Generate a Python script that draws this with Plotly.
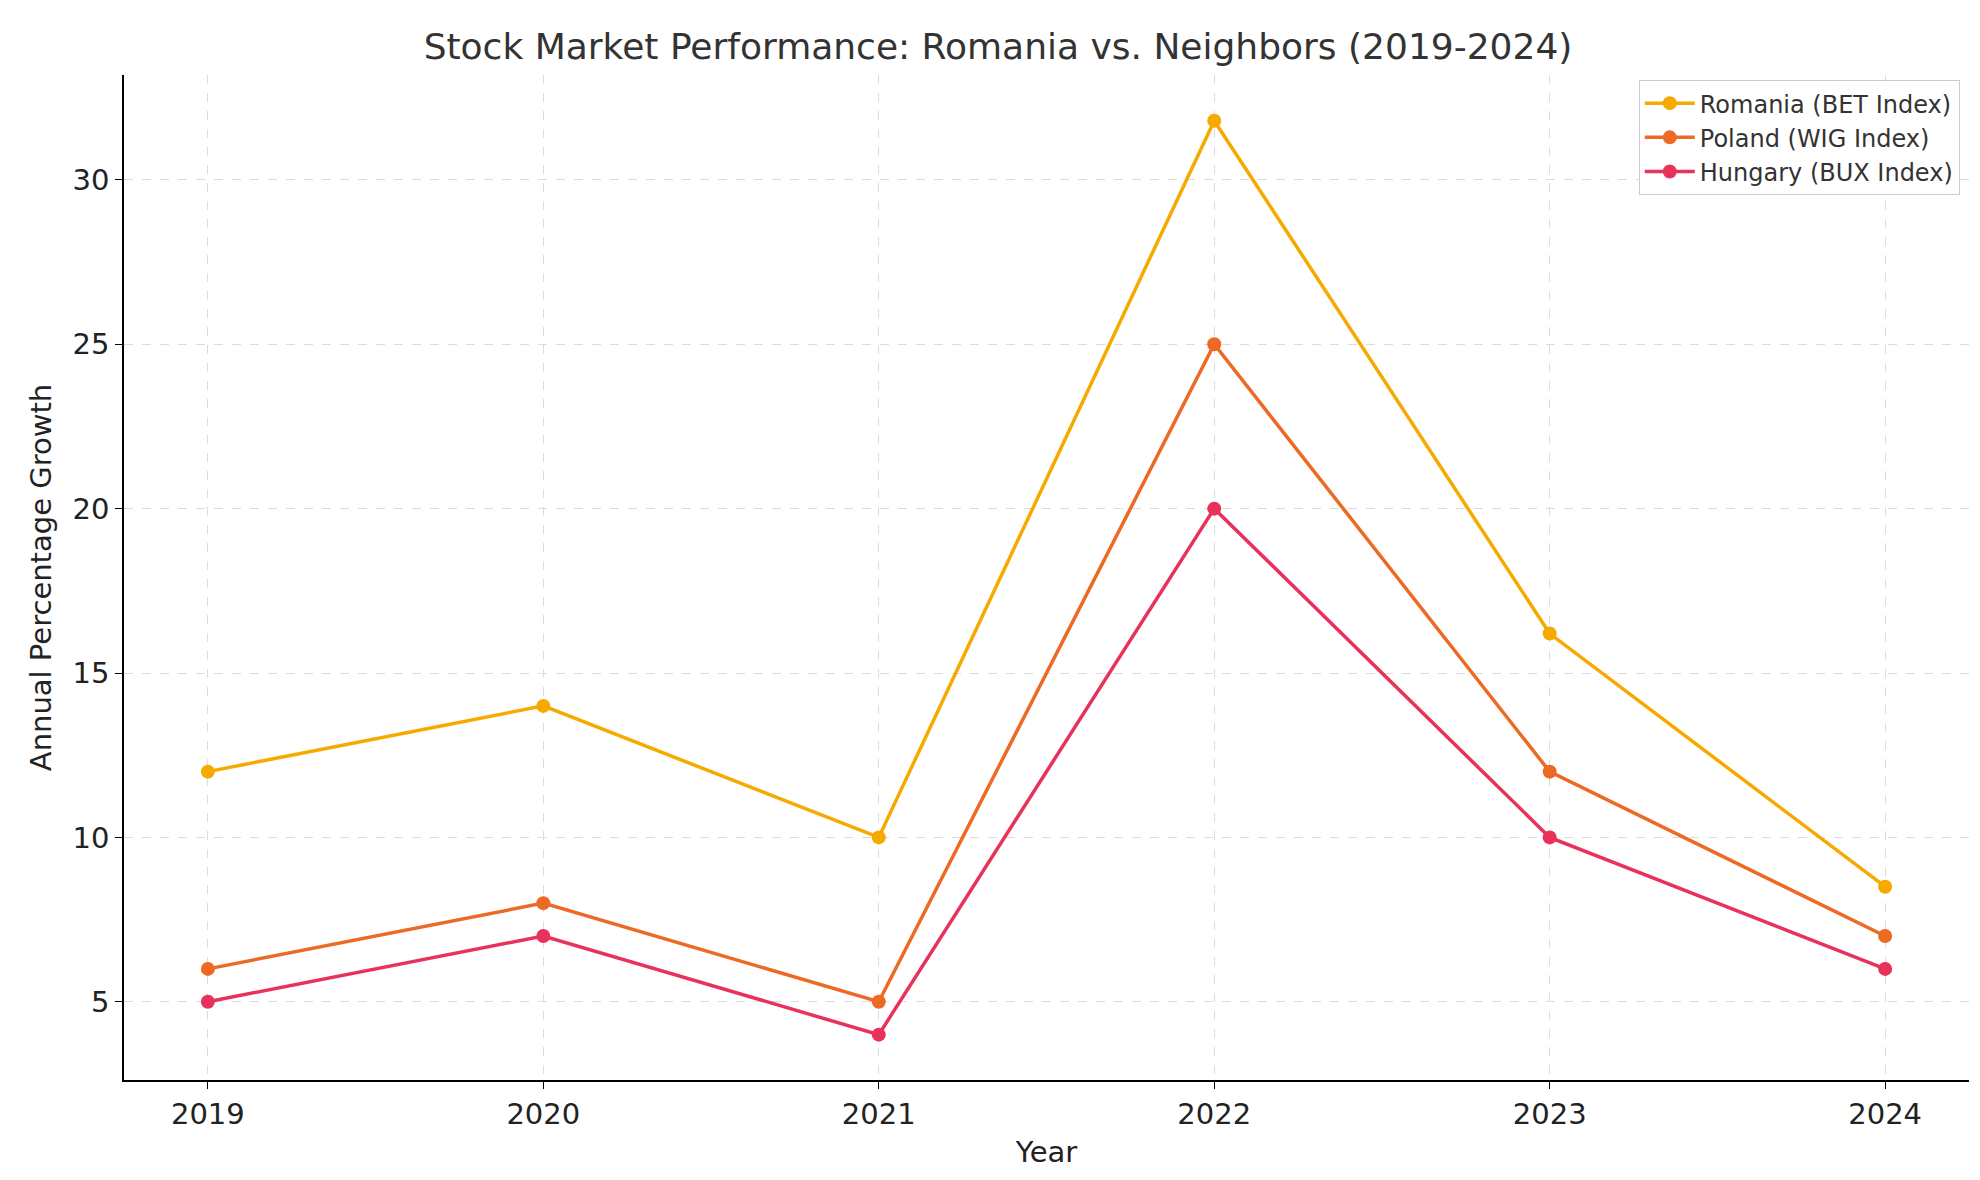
import plotly.graph_objects as go

years = [2019, 2020, 2021, 2022, 2023, 2024]
romania = [12, 14, 10, 31.8, 16.2, 8.5]
poland = [6, 8, 5, 25, 12, 7]
hungary = [5, 7, 4, 20, 10, 6]

series = [
    ("Romania (BET Index)", romania, "#f6aa00"),
    ("Poland (WIG Index)", poland, "#ec6a24"),
    ("Hungary (BUX Index)", hungary, "#e9325b"),
]

fig = go.Figure()
for name, vals, color in series:
    fig.add_trace(go.Scatter(x=years, y=vals, name=name, mode="lines+markers",
                             line=dict(color=color, width=3.5),
                             marker=dict(color=color, size=14)))

grid = dict(showgrid=True, gridcolor="#dcdcdc", griddash="dash", gridwidth=1,
            showline=True, linecolor="black", linewidth=1.5, ticks="outside",
            ticklen=7, tickcolor="black", tickfont=dict(size=29, color="#222"),
            zeroline=False)

fig.update_layout(
    width=1980, height=1180,
    font=dict(family="DejaVu Sans", color="#222"),
    title=dict(text="Stock Market Performance: Romania vs. Neighbors (2019-2024)",
               x=0.5, xanchor="center", y=0.978, font=dict(size=36, color="#333")),
    plot_bgcolor="white", paper_bgcolor="white",
    margin=dict(l=116, r=19, t=67, b=108),
    xaxis=dict(range=[2018.75, 2024.25], tickvals=years,
               title=dict(text="Year", font=dict(size=29), standoff=12), **grid),
    yaxis=dict(range=[2.62, 33.19], tickvals=[5, 10, 15, 20, 25, 30],
               title=dict(text="Annual Percentage Growth", font=dict(size=29), standoff=12),
               **grid),
    legend=dict(x=0.995, y=0.995, xanchor="right", yanchor="top",
                bgcolor="rgba(255,255,255,0.9)", bordercolor="#ccc", borderwidth=1,
                font=dict(size=24, color="#333"), itemwidth=50),
)

fig.write_html("out.html")
